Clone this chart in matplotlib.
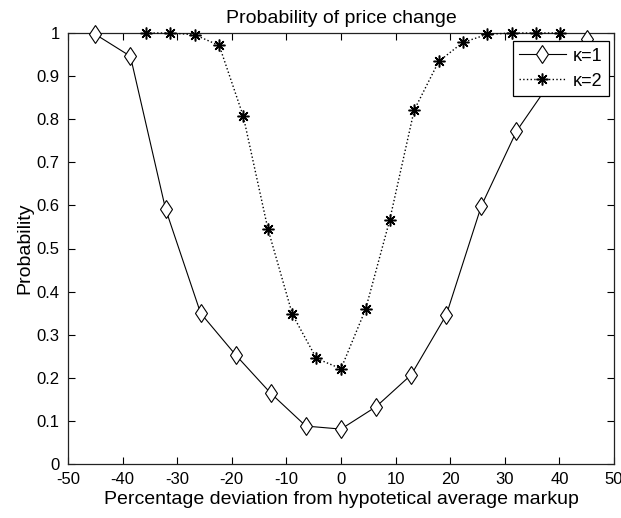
import matplotlib
matplotlib.use("Agg")
import matplotlib.pyplot as plt

# kappa = 1 (diamonds, solid line)
x_k1 = [-45, -38.57, -32.14, -25.71, -19.29, -12.86, -6.43, 0,
        6.43, 12.86, 19.29, 25.71, 32.14, 38.57, 45]
p_k1 = [0.997, 0.946, 0.592, 0.350, 0.253, 0.164, 0.088, 0.081,
        0.133, 0.207, 0.346, 0.599, 0.772, 0.89, 0.987]

# kappa = 2 (asterisks, dotted line)
x_k2 = [-35.7, -31.3, -26.8, -22.3, -17.9, -13.4, -8.9, -4.5, 0,
        4.5, 8.9, 13.4, 17.9, 22.3, 26.8, 31.3, 35.7, 40.2]
p_k2 = [1.0, 1.0, 0.996, 0.971, 0.807, 0.546, 0.347, 0.245, 0.221,
        0.359, 0.565, 0.821, 0.934, 0.978, 0.997, 1.0, 1.0, 1.0]

x_ticks = [-50, -40, -30, -20, -10, 0, 10, 20, 30, 40, 50]
y_ticks = [0, 0.1, 0.2, 0.3, 0.4, 0.5, 0.6, 0.7, 0.8, 0.9, 1]
y_labels = ["0", "0.1", "0.2", "0.3", "0.4", "0.5", "0.6", "0.7", "0.8", "0.9", "1"]

plt.rcParams["font.family"] = ["Liberation Sans", "DejaVu Sans"]
plt.rcParams["axes.unicode_minus"] = False

fig = plt.figure(figsize=(6.21, 5.18), dpi=100)
ax = fig.add_axes([68 / 621, 1 - 464 / 518, 546 / 621, 431 / 518])

ax.plot(x_k1, p_k1, color="black", lw=0.8, ls="-", marker="d", ms=9.5,
        mfc="white", mec="black", mew=0.8, clip_on=False, label="κ=1", zorder=3)
ax.plot(x_k2, p_k2, color="black", lw=1.0, ls=":", marker=(8, 2, 0), ms=8.5,
        mec="black", mew=1.1, clip_on=False, label="κ=2", zorder=3)

ax.set_xlim(-50, 50)
ax.set_ylim(0, 1)
ax.set_xticks(x_ticks)
ax.set_yticks(y_ticks)
ax.set_yticklabels(y_labels)
ax.tick_params(direction="in", top=True, right=True, length=5, width=0.8,
               labelsize=12, colors="black")
ax.tick_params(axis="x", pad=6)
ax.tick_params(axis="y", pad=6)
for s in ax.spines.values():
    s.set_linewidth(0.9)
    s.set_color("#222222")

ax.set_title("Probability of price change", fontsize=14, pad=7)
ax.set_xlabel("Percentage deviation from hypotetical average markup", fontsize=14, labelpad=3)
ax.set_ylabel("Probability", fontsize=14, labelpad=2)

leg = ax.legend(loc="upper right", bbox_to_anchor=(0.991, 0.981), borderaxespad=0,
                fancybox=False, edgecolor="black", framealpha=1, fontsize=13,
                handlelength=2.6, handletextpad=0.4, borderpad=0.35, labelspacing=0.45)
leg.get_frame().set_linewidth(0.9)

fig.savefig("out.png", dpi=100, facecolor="white")
